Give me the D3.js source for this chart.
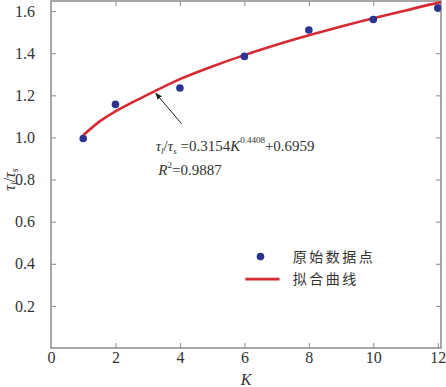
<!DOCTYPE html>
<html>
<head>
<meta charset="utf-8">
<script src="https://cdn.jsdelivr.net/npm/d3@7"></script>
<style>
  body { margin: 0; background: #fff; }
  svg text { font-family: "Liberation Serif", serif; fill: #333; }
</style>
</head>
<body>
<div id="chart"></div>
<script>
//********************* DATA ************************************

var pointK = [1, 2, 4, 6, 8, 10, 12];
var pointRatio = [0.995, 1.157, 1.235, 1.385, 1.51, 1.56, 1.615];

// fitted curve
var fitK = [1, 1.5, 2, 2.5, 3, 4, 5, 6, 7, 8, 9, 10, 11, 12, 12.1];
var fitRatio = [1.01, 1.075, 1.124, 1.165, 1.203, 1.277, 1.337, 1.391, 1.44, 1.485, 1.527, 1.566, 1.603, 1.639, 1.642];

var xTicks = [0, 2, 4, 6, 8, 10, 12];
var yTicks = [0.2, 0.4, 0.6, 0.8, 1.0, 1.2, 1.4, 1.6];
var legendLabels = ["原始数据点", "拟合曲线"];

//********************* DIMENSIONS ************************************

var margin = {top: 1, right: 5, bottom: 39, left: 51},
    width = 446 - margin.left - margin.right,
    height = 387 - margin.top - margin.bottom;

var x = d3.scaleLinear().domain([0, 12.1]).range([0, width]);
var y = d3.scaleLinear().domain([0, 1.648]).range([height, 0]);

var svg = d3.select("#chart").append("svg")
    .attr("width", 446)
    .attr("height", 387)
    .attr("font-family", "Liberation Serif")
  .append("g")
    .attr("transform", "translate(" + margin.left + "," + margin.top + ")");

var axisColor = "#8a8a8a";

// frame
svg.append("rect")
    .attr("width", width)
    .attr("height", height)
    .attr("fill", "none")
    .attr("stroke", axisColor)
    .attr("stroke-width", 1.5);

// bottom axis, ticks point inward
var xAxis = svg.append("g")
    .attr("transform", "translate(0," + height + ")")
    .call(d3.axisBottom(x).tickValues(xTicks).tickSizeInner(-5).tickSizeOuter(0).tickPadding(4))
    .attr("font-family", "Liberation Serif")
    .attr("font-size", 16);
xAxis.select(".domain").remove();
xAxis.selectAll("line").attr("stroke", axisColor).filter(function(d) { return d === 0; }).remove();
xAxis.selectAll("text").attr("fill", "#333");

// top ticks
svg.append("g")
    .call(d3.axisTop(x).tickValues(xTicks.slice(1)).tickSizeInner(-5).tickSizeOuter(0).tickFormat(""))
    .call(function(g) { g.select(".domain").remove(); g.selectAll("line").attr("stroke", axisColor); });

// left axis
var yAxis = svg.append("g")
    .call(d3.axisLeft(y).tickValues(yTicks).tickFormat(d3.format(".1f")).tickSizeInner(-5).tickSizeOuter(0).tickPadding(16))
    .attr("font-family", "Liberation Serif")
    .attr("font-size", 16);
yAxis.select(".domain").remove();
yAxis.selectAll("line").attr("stroke", axisColor);
yAxis.selectAll("text").attr("fill", "#333");

// right ticks
svg.append("g")
    .attr("transform", "translate(" + width + ",0)")
    .call(d3.axisRight(y).tickValues(yTicks).tickSizeInner(-5).tickSizeOuter(0).tickFormat(""))
    .call(function(g) { g.select(".domain").remove(); g.selectAll("line").attr("stroke", axisColor); });

// clip for plot
svg.append("clipPath").attr("id", "clip")
  .append("rect").attr("width", width).attr("height", height);

var plot = svg.append("g").attr("clip-path", "url(#clip)");

var fitData = fitK.map(function(k, i) { return {k: k, v: fitRatio[i]}; });
var pts = pointK.map(function(k, i) { return {k: k, v: pointRatio[i]}; });

var valueline = d3.line()
    .x(function(d) { return x(d.k); })
    .y(function(d) { return y(d.v); })
    .curve(d3.curveMonotoneX);

plot.append("path")
    .datum(fitData)
    .attr("d", valueline)
    .attr("fill", "none")
    .attr("stroke", "#d62b33")
    .attr("stroke-width", 2.6);

plot.selectAll(".pt")
    .data(pts)
  .enter().append("circle")
    .attr("class", "pt")
    .attr("cx", function(d) { return x(d.k); })
    .attr("cy", function(d) { return y(d.v); })
    .attr("r", 3.8)
    .attr("fill", "#2b3590");

//********************* ANNOTATION ************************************

svg.append("defs").append("marker")
    .attr("id", "arrow")
    .attr("viewBox", "0 0 10 10")
    .attr("refX", 9).attr("refY", 5)
    .attr("markerWidth", 7).attr("markerHeight", 7)
    .attr("orient", "auto")
  .append("path")
    .attr("d", "M0,1 L10,5 L0,9 Z")
    .attr("fill", "#222");

svg.append("line")
    .attr("x1", x(4.05)).attr("y1", y(1.065))
    .attr("x2", x(3.25)).attr("y2", y(1.21))
    .attr("stroke", "#222")
    .attr("stroke-width", 1)
    .attr("marker-end", "url(#arrow)");

var eq = svg.append("text")
    .attr("x", x(2.97) + 9)
    .attr("y", y(0.938) + 1)
    .attr("font-size", 15);
eq.append("tspan").attr("font-style", "italic").text("τ");
eq.append("tspan").attr("font-style", "italic").attr("font-size", 9).attr("dy", 3).text("l");
eq.append("tspan").attr("dy", -3).text("/");
eq.append("tspan").attr("font-style", "italic").text("τ");
eq.append("tspan").attr("font-style", "italic").attr("font-size", 9).attr("dy", 3).text("s");
eq.append("tspan").attr("dy", -3).text(" =0.3154");
eq.append("tspan").attr("font-style", "italic").text("K");
eq.append("tspan").attr("font-size", 9).attr("dy", -8).text("0.4408");
eq.append("tspan").attr("dy", 8).text("+0.6959");

var r2 = svg.append("text")
    .attr("x", x(3.3) + 1)
    .attr("y", y(0.826) + 1)
    .attr("font-size", 15);
r2.append("tspan").attr("font-style", "italic").text("R");
r2.append("tspan").attr("font-size", 9).attr("dy", -7).text("2");
r2.append("tspan").attr("dy", 7).text("=0.9887");

//********************* LEGEND ************************************

var legend = svg.append("g");
legend.append("circle")
    .attr("cx", x(6.5)).attr("cy", y(0.434))
    .attr("r", 3.8).attr("fill", "#2b3590");
legend.append("line")
    .attr("x1", x(6.03)).attr("x2", x(7.09))
    .attr("y1", y(0.327)).attr("y2", y(0.327))
    .attr("stroke", "#d62b33").attr("stroke-width", 2.6);

legend.selectAll(".lg")
    .data(legendLabels)
  .enter().append("text")
    .attr("class", "lg")
    .attr("x", x(7.5))
    .attr("y", function(d, i) { return y(i === 0 ? 0.434 : 0.327); })
    .attr("dy", "0.35em")
    .attr("font-size", 14)
    .attr("letter-spacing", 2.5)
    .style("font-family", "'Noto Sans CJK SC', sans-serif")
    .text(function(d) { return d; });

//********************* AXIS TITLES ************************************

var yl = svg.append("text")
    .attr("transform", "translate(" + (-36) + "," + y(0.8) + ") rotate(-90)")
    .attr("text-anchor", "middle")
    .attr("font-size", 16);
yl.append("tspan").attr("font-style", "italic").text("τ");
yl.append("tspan").attr("font-style", "italic").attr("font-size", 10).attr("dy", 3).text("l");
yl.append("tspan").attr("dy", -3).text("/");
yl.append("tspan").attr("font-style", "italic").text("τ");
yl.append("tspan").attr("font-style", "italic").attr("font-size", 10).attr("dy", 3).text("s");

svg.append("text")
    .attr("x", x(6.05))
    .attr("y", height + 37)
    .attr("text-anchor", "middle")
    .attr("font-size", 16)
    .attr("font-style", "italic")
    .text("K");
</script>
</body>
</html>
